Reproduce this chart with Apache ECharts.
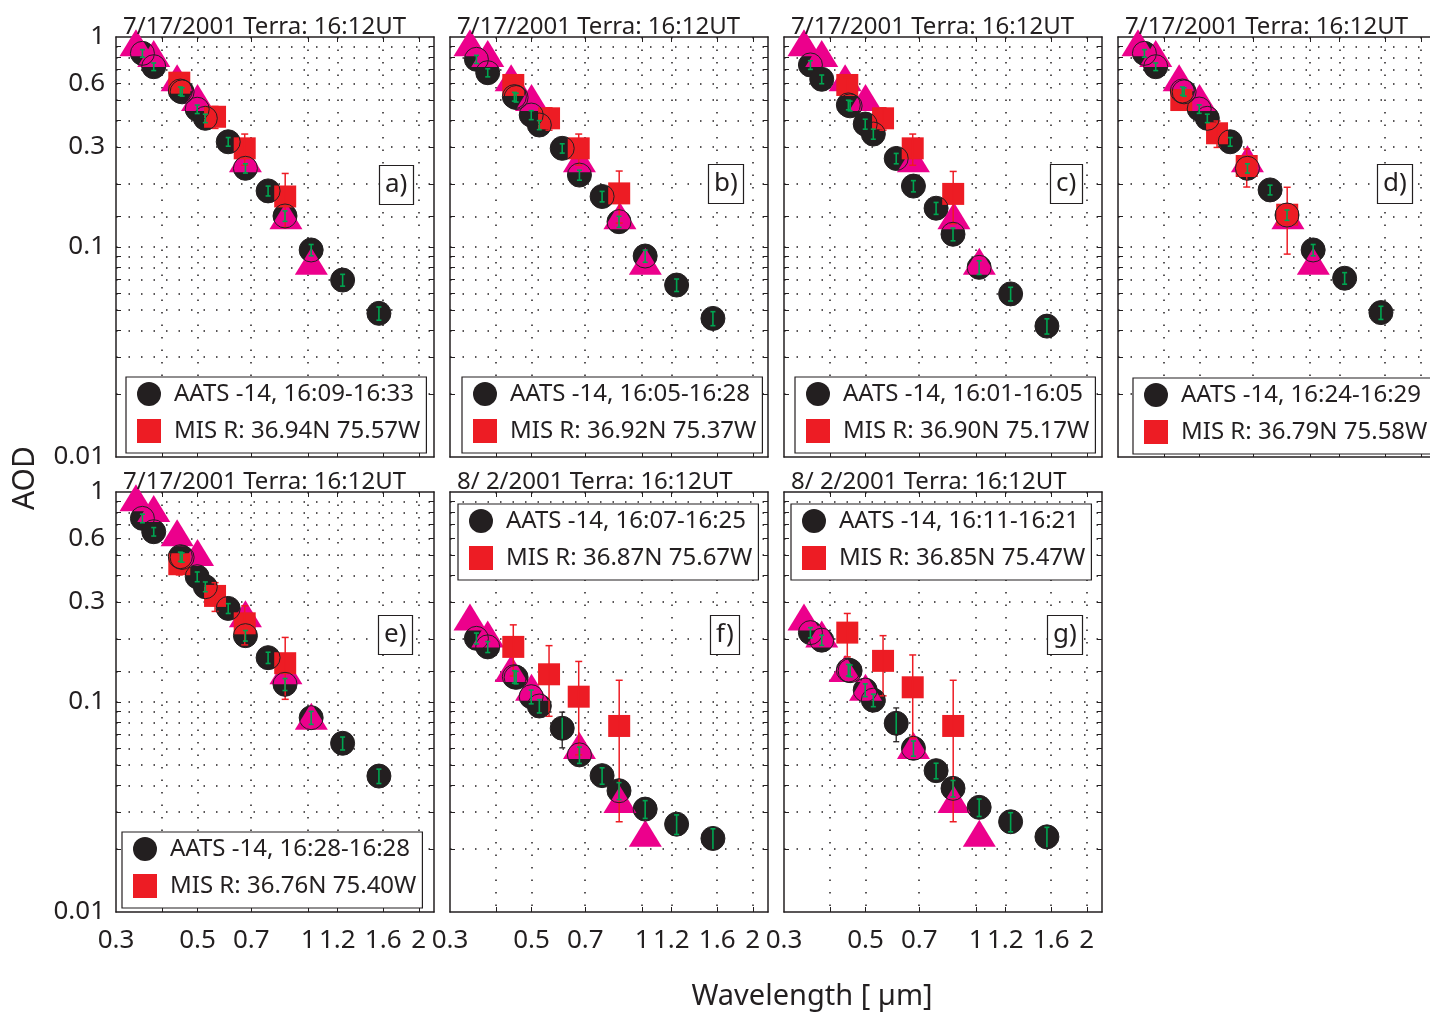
<!DOCTYPE html>
<html>
<head>
<meta charset="utf-8">
<script src="https://cdn.jsdelivr.net/npm/echarts@6/dist/echarts.min.js"></script>
<style>
  html, body { margin: 0; padding: 0; background: #fff; }
  #chart { width: 1430px; height: 1013px; }
</style>
</head>
<body>
<div id="chart"></div>
<script>
// wavelengths in micrometres
var aatsWl = [0.354, 0.380, 0.449, 0.454, 0.499, 0.525, 0.606, 0.675, 0.778, 0.865, 1.019, 1.241, 1.558];
var misrWl = [0.446, 0.558, 0.672, 0.866];
var aeroWl = [0.340, 0.380, 0.440, 0.500, 0.675, 0.870, 1.020];

// AATS-14 AOD per panel
var aatsA = [0.836, 0.722, 0.553, 0.548, 0.453, 0.410, 0.317, 0.237, 0.185, 0.1405, 0.0968, 0.0696, 0.0483];
var aatsB = [0.783, 0.676, 0.520, 0.515, 0.425, 0.381, 0.295, 0.220, 0.174, 0.132, 0.0906, 0.0659, 0.0457];
var aatsC = [0.736, 0.629, 0.475, 0.470, 0.385, 0.345, 0.264, 0.195, 0.153, 0.115, 0.080, 0.0598, 0.042];
var aatsD = [0.836, 0.722, 0.553, 0.548, 0.454, 0.410, 0.317, 0.237, 0.187, 0.142, 0.0968, 0.071, 0.0487];
var aatsE = [0.749, 0.647, 0.492, 0.488, 0.395, 0.354, 0.279, 0.207, 0.1626, 0.1214, 0.0842, 0.0636, 0.0444];
var aatsF = [0.201, 0.183, 0.132, 0.131, 0.106, 0.0957, 0.075, 0.056, 0.0446, 0.0378, 0.0309, 0.0262, 0.0224];
var aatsG = [0.214, 0.197, 0.142, 0.141, 0.114, 0.102, 0.0792, 0.0602, 0.0471, 0.0388, 0.0315, 0.0269, 0.0228];
var aatsErr0717 = [0.035, 0.03, 0.025, 0.025, 0.021, 0.019, 0.015, 0.012, 0.010, 0.008, 0.006, 0.0045, 0.0035];
var aatsErr0802 = [0.012, 0.011, 0.009, 0.009, 0.008, 0.007, 0.0145, 0.005, 0.004, 0.0035, 0.003, 0.0028, 0.0025];

// MISR AOD per panel
var misrA = [0.606, 0.417, 0.295, 0.174];
var misrB = [0.591, 0.410, 0.295, 0.180];
var misrC = [0.591, 0.410, 0.295, 0.179];
var misrD = [0.501, 0.348, 0.243, 0.1425];
var misrE = [0.453, 0.320, 0.237, 0.153];
var misrF = [0.183, 0.1355, 0.106, 0.0769];
var misrG = [0.214, 0.157, 0.1175, 0.0769];
var misrErr = [0.05, 0.05, 0.05, 0.05];

// triangles (sun photometer at the site)
var aero0717 = [0.94, 0.835, 0.64, 0.515, 0.263, 0.141, 0.0855];
var aero0802 = [0.254, 0.211, 0.1445, 0.1175, 0.062, 0.0343, 0.0237];

var panelLetters = ['a)', 'b)', 'c)', 'd)', 'e)', 'f)', 'g)'];
var panelDates = ['7/17/2001 Terra: 16:12UT', '7/17/2001 Terra: 16:12UT', '7/17/2001 Terra: 16:12UT',
  '7/17/2001 Terra: 16:12UT', '7/17/2001 Terra: 16:12UT', '8/ 2/2001 Terra: 16:12UT', '8/ 2/2001 Terra: 16:12UT'];
var aatsNames = ['AATS -14, 16:09-16:33', 'AATS -14, 16:05-16:28', 'AATS -14, 16:01-16:05', 'AATS -14, 16:24-16:29',
  'AATS -14, 16:28-16:28', 'AATS -14, 16:07-16:25', 'AATS -14, 16:11-16:21'];
var misrNames = ['MIS R: 36.94N 75.57W', 'MIS R: 36.92N 75.37W', 'MIS R: 36.90N 75.17W', 'MIS R: 36.79N 75.58W',
  'MIS R: 36.76N 75.40W', 'MIS R: 36.87N 75.67W', 'MIS R: 36.85N 75.47W'];

// axes
var xTickVals = [0.3, 0.5, 0.7, 1, 1.2, 1.6, 2];
var xGridVals = [0.4, 0.5, 0.7, 1, 1.2, 1.6, 2];
var yTickVals = [0.01, 0.1, 0.3, 0.6, 1];
var yGridVals = [0.02, 0.03, 0.04, 0.05, 0.06, 0.07, 0.08, 0.09, 0.1, 0.14, 0.2, 0.3, 0.4, 0.5, 0.6, 0.7, 0.8, 0.9];
var xRange = [0.3, 2.2];
var yRange = [0.01, 1];

var aatsSets = [aatsA, aatsB, aatsC, aatsD, aatsE, aatsF, aatsG];
var misrSets = [misrA, misrB, misrC, misrD, misrE, misrF, misrG];
var aeroSets = [aero0717, aero0717, aero0717, aero0717, aero0717, aero0802, aero0802];
var aatsErrSets = [aatsErr0717, aatsErr0717, aatsErr0717, aatsErr0717, aatsErr0717, aatsErr0802, aatsErr0802];

// ---- layout / style ----
var ink = '#231f20', red = '#ed1c24', magenta = '#ec008c', green = '#00a651';
var FONT = '"Noto Sans", "DejaVu Sans", sans-serif';
var COLS = [116, 450, 784, 1118], ROWS = [37, 492], PW = 318, PH = 420;
var layout = [
  { col: 0, row: 0, legend: [126, 377], letter: [379, 165], xl: false, yl: true },
  { col: 1, row: 0, legend: [462, 377], letter: [708, 164], xl: false, yl: false },
  { col: 2, row: 0, legend: [795, 377], letter: [1050, 164], xl: false, yl: false },
  { col: 3, row: 0, legend: [1133, 378], letter: [1377, 164], xl: false, yl: false },
  { col: 0, row: 1, legend: [122, 832], letter: [378, 615], xl: true, yl: true },
  { col: 1, row: 1, legend: [458, 504], letter: [710, 615], xl: true, yl: false },
  { col: 2, row: 1, legend: [791, 504], letter: [1047, 615], xl: true, yl: false }
];

function lg(v) { return Math.log10(v); }
function labelFor(vals) {
  return function (v) {
    var best = vals[0];
    vals.forEach(function (t) { if (Math.abs(lg(t) - v) < Math.abs(lg(best) - v)) best = t; });
    return String(best);
  };
}

function xAxisDef(i, pos, labels) {
  return {
    gridIndex: i, type: 'value', position: pos, min: lg(xRange[0]), max: lg(xRange[1]),
    axisLine: { show: true, onZero: false, lineStyle: { color: ink, width: 1.5 } },
    axisTick: { show: true, inside: true, length: 5, customValues: xGridVals.map(lg), lineStyle: { color: ink, width: 1 } },
    axisLabel: { show: labels, customValues: xTickVals.map(lg), formatter: labelFor(xTickVals),
      color: ink, fontSize: 26, fontFamily: FONT, margin: 16 },
    splitLine: { show: pos === 'bottom', lineStyle: { color: ink, width: 1.5, type: [1.5, 11] } }
  };
}
function yAxisDef(i, pos, labels) {
  return {
    gridIndex: i, type: 'value', position: pos, min: lg(yRange[0]), max: lg(yRange[1]),
    axisLine: { show: true, onZero: false, lineStyle: { color: ink, width: 1.5 } },
    axisTick: { show: true, inside: true, length: 5, customValues: yGridVals.map(lg), lineStyle: { color: ink, width: 1 } },
    axisLabel: { show: labels, customValues: yTickVals.map(lg), formatter: labelFor(yTickVals),
      color: ink, fontSize: 26, fontFamily: FONT, margin: 11 },
    splitLine: { show: pos === 'left', lineStyle: { color: ink, width: 1.5, type: [1.5, 11] } }
  };
}

function seg(x1, y1, x2, y2, color, w) {
  return { type: 'line', shape: { x1: x1, y1: y1, x2: x2, y2: y2 }, style: { stroke: color, lineWidth: w } };
}
// value: [log x, log y, log hi, log lo]
function misrBars(params, api) {
  var c = api.coord([api.value(0), api.value(1)]);
  var yh = api.coord([api.value(0), api.value(2)])[1];
  var yl = api.coord([api.value(0), api.value(3)])[1];
  return { type: 'group', children: [
    seg(c[0], yh, c[0], yl, red, 1.5),
    seg(c[0] - 3.5, yh, c[0] + 3.5, yh, red, 1.5),
    seg(c[0] - 3.5, yl, c[0] + 3.5, yl, red, 1.5)
  ] };
}
function aatsBars(params, api) {
  var c = api.coord([api.value(0), api.value(1)]);
  var yh = api.coord([api.value(0), api.value(2)])[1];
  var yl = api.coord([api.value(0), api.value(3)])[1];
  var r = 10.5, kids = [];
  var outTop = yh < c[1] - r, outBot = yl > c[1] + r;
  if (outTop || outBot) {
    kids.push(seg(c[0], yh, c[0], yl, ink, 1.3));
    kids.push(seg(c[0] - 3, yh, c[0] + 3, yh, ink, 1.3));
    kids.push(seg(c[0] - 3, yl, c[0] + 3, yl, ink, 1.3));
  }
  var gt = Math.max(yh, c[1] - r), gb = Math.min(yl, c[1] + r);
  kids.push(seg(c[0], gt, c[0], gb, green, 1.6));
  if (!outTop) kids.push(seg(c[0] - 2.5, gt, c[0] + 2.5, gt, green, 1.6));
  if (!outBot) kids.push(seg(c[0] - 2.5, gb, c[0] + 2.5, gb, green, 1.6));
  return { type: 'group', children: kids };
}

var option = {
  animation: false,
  backgroundColor: '#fff',
  grid: [], xAxis: [], yAxis: [], series: [], legend: [], title: [],
  graphic: [
    { type: 'text', x: 25, y: 478, rotation: Math.PI / 2,
      style: { text: 'AOD', fontSize: 30, fill: ink, fontFamily: FONT, align: 'center', verticalAlign: 'middle' } },
    { type: 'text', x: 812, y: 997,
      style: { text: 'Wavelength [ µm]', fontSize: 29, fill: ink, fontFamily: FONT, align: 'center', verticalAlign: 'middle' } }
  ]
};

layout.forEach(function (L, i) {
  var left = COLS[L.col], top = ROWS[L.row];
  var aats = aatsSets[i], misr = misrSets[i], aero = aeroSets[i], aErr = aatsErrSets[i];
  option.grid.push({ left: left, top: top, width: PW, height: PH, containLabel: false, outerBoundsMode: 'none' });
  option.xAxis.push(xAxisDef(i, 'bottom', L.xl), xAxisDef(i, 'top', false));
  option.yAxis.push(yAxisDef(i, 'left', L.yl), yAxisDef(i, 'right', false));
  var ax = { xAxisIndex: 2 * i, yAxisIndex: 2 * i, clip: false, silent: true };

  var aatsPts = aatsWl.map(function (w, k) { return [lg(w), lg(aats[k])]; });
  var aatsErrPts = aatsWl.map(function (w, k) {
    return [lg(w), lg(aats[k]), lg(aats[k] + aErr[k]), lg(Math.max(aats[k] - aErr[k], 1e-4))];
  });
  var misrPts = misrWl.map(function (w, k) { return [lg(w), lg(misr[k])]; });
  var misrErrPts = misrWl.map(function (w, k) {
    return [lg(w), lg(misr[k]), lg(misr[k] + misrErr[k]), lg(Math.max(misr[k] - misrErr[k], 1e-4))];
  });
  var aeroPts = aeroWl.map(function (w, k) { return [lg(w), lg(aero[k])]; });

  option.series.push(
    Object.assign({ type: 'scatter', name: aatsNames[i], symbol: 'circle', symbolSize: 24, z: 2,
      itemStyle: { color: ink, opacity: 1 }, data: aatsPts }, ax),
    Object.assign({ type: 'scatter', name: 'tri' + i, symbol: 'triangle', symbolSize: [33, 27], z: 3,
      itemStyle: { color: magenta, opacity: 1 }, data: aeroPts }, ax),
    Object.assign({ type: 'scatter', name: misrNames[i], symbol: 'rect', symbolSize: 22, z: 4,
      itemStyle: { color: red, opacity: 1 }, data: misrPts }, ax),
    Object.assign({ type: 'custom', name: 'misrErr' + i, renderItem: misrBars, z: 5,
      encode: { x: 0, y: 1 }, data: misrErrPts }, ax),
    Object.assign({ type: 'scatter', name: 'ring' + i, symbol: 'circle', symbolSize: 24, z: 6,
      itemStyle: { color: 'rgba(0,0,0,0)', borderColor: ink, borderWidth: 1, opacity: 1 }, data: aatsPts }, ax),
    Object.assign({ type: 'custom', name: 'aatsErr' + i, renderItem: aatsBars, z: 7,
      encode: { x: 0, y: 1 }, data: aatsErrPts }, ax)
  );

  option.legend.push({
    left: L.legend[0], top: L.legend[1], orient: 'vertical', selectedMode: false, z: 10,
    data: [{ name: aatsNames[i], icon: 'circle' }, { name: misrNames[i], icon: 'rect' }],
    itemWidth: 24, itemHeight: 24, itemGap: 13, padding: [5, 6, 10, 11],
    borderColor: ink, borderWidth: 1.2, backgroundColor: '#fff',
    textStyle: { fontSize: 24, color: ink, fontFamily: FONT, lineHeight: 24, padding: [0, 0, 0, 8] }
  });

  option.title.push({
    text: panelDates[i], left: left + 7, top: top - 23, padding: 0,
    textStyle: { fontSize: 24, fontWeight: 'normal', color: ink, fontFamily: FONT, lineHeight: 26 }
  });
  option.title.push({
    text: panelLetters[i], left: L.letter[0], top: L.letter[1], padding: [5, 6], z: 10,
    borderColor: ink, borderWidth: 1.2, backgroundColor: '#fff',
    textStyle: { fontSize: 26, fontWeight: 'normal', color: ink, fontFamily: FONT, lineHeight: 30 }
  });
});

var chart = echarts.init(document.getElementById('chart'));
chart.setOption(option);
</script>
</body>
</html>
